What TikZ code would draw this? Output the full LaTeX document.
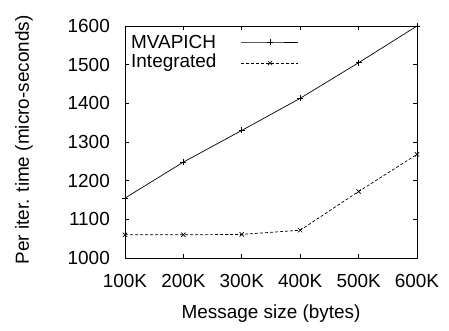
\documentclass[tikz,border=0pt]{standalone}
\usepackage{fontspec}
\setmainfont{Liberation Sans}

\begin{document}
\begin{tikzpicture}[x=1bp,y=1bp,font=\fontsize{19}{22}\selectfont,
  every node/.style={inner sep=0pt},
  series/.style={line width=0.7bp, mark size=3bp, mark options={solid, line width=0.7bp}}]
\useasboundingbox (-125,-72) rectangle (324,258);
% frame and ticks
\draw[line width=0.9bp] (0,0) rectangle (292,232);
\foreach \v [count=\i from 0] in {1000,1100,1200,1300,1400,1500,1600} {
  \draw[line width=0.7bp] (0,\i*38.67) -- ++(4,0);
  \draw[line width=0.7bp] (292,\i*38.67) -- ++(-4,0);
  \node[anchor=east] (y\i) at (-15,\i*38.67) {\v};
}
\foreach \k [count=\i from 0] in {100K,200K,300K,400K,500K,600K} {
  \draw[line width=0.7bp] (\i*58.4,0) -- ++(0,4);
  \draw[line width=0.7bp] (\i*58.4,232) -- ++(0,-4);
  \node[anchor=base] (x\i) at (\i*58.4,-29) {\k};
}
\node[rotate=90] (ylab) at (-101,118) {Per iter. time (micro-seconds)};
\node[anchor=base] (xlab) at (146,-60) {Message size (bytes)};
% data
\draw[series, mark=+] plot coordinates {(0,59.9) (58.4,95.9) (116.8,127.6) (175.2,159.7) (233.6,195.3) (292,232)};
\draw[series, mark=x, dash pattern=on 3bp off 2bp] plot coordinates {(0,23.2) (58.4,23.2) (116.8,23.6) (175.2,27.8) (233.6,66.5) (292,103.6)};
% legend
\node[anchor=west] (lm) at (6,216) {MVAPICH};
\node[anchor=west] (li) at (6,195) {Integrated};
\draw[series, mark=+, mark indices={2}] plot coordinates {(116,216) (145,216) (173,216)};
\draw[series, mark=x, mark indices={2}, dash pattern=on 3bp off 2bp] plot coordinates {(116,195) (145,195) (173,195)};
\end{tikzpicture}
\end{document}
